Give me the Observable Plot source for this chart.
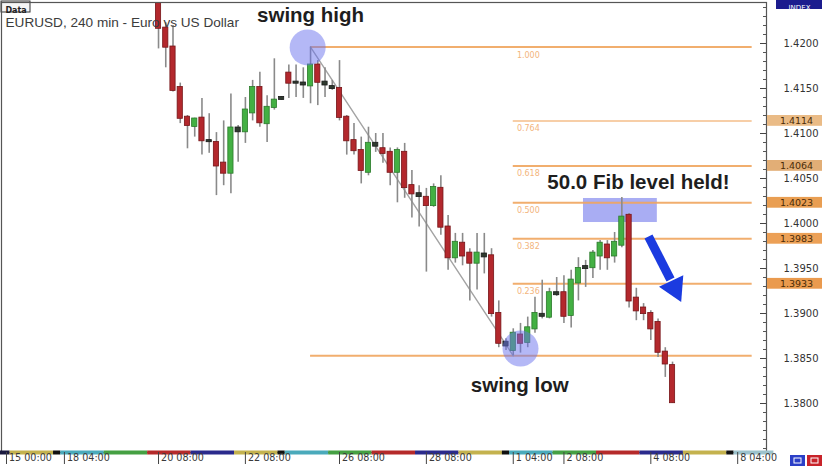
<!DOCTYPE html>
<html><head><meta charset="utf-8">
<script src="https://cdn.jsdelivr.net/npm/d3@7"></script>
<script src="https://cdn.jsdelivr.net/npm/@observablehq/plot@0.6"></script>
<style>html,body{margin:0;padding:0;background:#fff} svg{display:block}</style>
</head><body><div id="chart"></div>
<script>
// ---- data (EURUSD, 240 min) ----
const opens = [1.4260,1.4217,1.4196,1.4151,1.4118,1.4108,1.4117,1.4092,1.4090,1.4067,
1.4056,1.4106,1.4102,1.4123,1.4151,1.4111,1.4129,1.4138,1.4167,1.4157,
1.4156,1.4153,1.4176,1.4157,1.4152,1.4150,1.4118,1.4092,1.4081,1.4057,
1.4089,1.4083,1.4079,1.4057,1.4079,1.4042,1.4033,1.4029,1.4020,1.4039,
1.3996,1.3962,1.3978,1.3967,1.3956,1.3966,1.3964,1.3900,1.3868,1.3859,
1.3876,1.3868,1.3883,1.3899,1.3896,1.3923,1.3923,1.3898,1.3934,1.3952,
1.3951,1.3964,1.3976,1.3964,1.3976,1.4009,1.3917,1.3906,1.3900,1.3890,
1.3857,1.3842];
const highs = [1.4268,1.4223,1.4220,1.4156,1.4120,1.4117,1.4139,1.4122,1.4101,1.4114,
1.4144,1.4109,1.4140,1.4159,1.4168,1.4142,1.4183,1.4141,1.4176,1.4176,
1.4173,1.4196,1.4181,1.4173,1.4159,1.4181,1.4120,1.4111,1.4096,1.4107,
1.4100,1.4100,1.4084,1.4084,1.4089,1.4059,1.4042,1.4039,1.4044,1.4053,
1.4009,1.3989,1.3989,1.3972,1.3989,1.3989,1.3972,1.3914,1.3872,1.3883,
1.3889,1.3896,1.3918,1.3937,1.3928,1.3940,1.3942,1.3948,1.3962,1.3959,
1.3970,1.3981,1.3981,1.3990,1.4029,1.4011,1.3928,1.3911,1.3903,1.3894,
1.3862,1.3846];
const lows = [1.4194,1.4173,1.4146,1.4111,1.4083,1.4096,1.4076,1.4078,1.4031,1.4042,
1.4033,1.4068,1.4089,1.4114,1.4107,1.4090,1.4126,1.4137,1.4139,1.4140,
1.4139,1.4133,1.4131,1.4140,1.4148,1.4114,1.4076,1.4076,1.4044,1.4053,
1.4079,1.4067,1.4042,1.4023,1.4028,1.4006,1.3996,1.3946,1.4018,1.3987,
1.3948,1.3956,1.3953,1.3914,1.3926,1.3944,1.3896,1.3862,1.3859,1.3853,
1.3856,1.3862,1.3878,1.3894,1.3894,1.3919,1.3889,1.3884,1.3914,1.3929,
1.3939,1.3948,1.3948,1.3956,1.3973,1.3906,1.3892,1.3892,1.3870,1.3851,
1.3829,1.3800];
const closes = [1.4217,1.4196,1.4148,1.4117,1.4109,1.4116,1.4092,1.4091,1.4064,1.4056,
1.4106,1.4102,1.4126,1.4151,1.4112,1.4129,1.4137,1.4140,1.4156,1.4156,
1.4154,1.4176,1.4157,1.4154,1.4150,1.4118,1.4092,1.4081,1.4059,1.4089,
1.4086,1.4078,1.4057,1.4081,1.4040,1.4033,1.4030,1.4020,1.4040,1.3996,
1.3962,1.3979,1.3964,1.3956,1.3967,1.3963,1.3900,1.3867,1.3864,1.3878,
1.3867,1.3884,1.3900,1.3897,1.3923,1.3921,1.3897,1.3937,1.3950,1.3950,
1.3967,1.3978,1.3962,1.3979,1.4007,1.3914,1.3903,1.3900,1.3883,1.3857,
1.3844,1.3801];

// time axis (bar index of each labelled bar)
const timeTickBars = [-21,-13,0,12,25,37,49,56,68,80];
const timeTickLabels = ["15 00:00","18 04:00","20 08:00","22 08:00","26 08:00","28 08:00","1 04:00","2 08:00","4 08:00","8 04:00"];
// day separator strip (bar index boundaries + colour per day)
const dayStart = [-23,-20.5,-14.5,-13.5,-7.5,-1.5,4.5,10.5,16.5,17.5,23.5,29.5,35.5,41.5,47.5,48.5,54.5,60.5,66.5,72.5,78.5,79.5];
const dayEnd   = [-20.5,-14.5,-13.5,-7.5,-1.5,4.5,10.5,16.5,17.5,23.5,29.5,35.5,41.5,47.5,48.5,54.5,60.5,66.5,72.5,78.5,79.5,85];
const dayColor = ["#1a1a40","#c4b24e","#111","#4aaabb","#45a043","#b52a2a","#2a2a8c","#c4b24e","#111","#4aaabb","#45a043","#b52a2a","#2a2a8c","#c4b24e","#111","#4aaabb","#45a043","#b52a2a","#2a2a8c","#c4b24e","#111","#9cc2cc"];

// price axis
const priceTicks = [1.38,1.385,1.39,1.395,1.40,1.405,1.41,1.415,1.42];

// Fibonacci retracement
const fibRatios = ["1.000","0.764","0.618","0.500","0.382","0.236","0.000"];
const fibPrices = [1.4196,1.4114,1.4064,1.4023,1.3983,1.3933,1.3853];
const fibStartBar = [21,49,49,49,49,49,21];
const fibEndBar = 82;
const fibAxisPrices = [1.4114,1.4064,1.4023,1.3983,1.3933];
const fibAxisColors = ["#eabb86","#e2ae76","#e99e52","#eca056","#ea9a4e"];

// annotations
const swingHighBar = 21, swingHighPrice = 1.4196;
const swingLowBar = 49, swingLowPrice = 1.3853;
const circleBars = [20.6, 50.0];
const circlePrices = [1.41956, 1.38611];
const heldBox = {x1: 58.7, x2: 68.9, y1: 1.40011, y2: 1.40278};
const noteTexts = ["swing high","swing low","50.0 Fib level held!"];
const noteBars = [21.0, 49.9, 66.3];
const notePrices = [1.42316, 1.38204, 1.40460];
const arrowBars = [67.68, 70.72];
const arrowPrices = [1.39856, 1.39378];
const arrowHead = {bar: 71.27, price: 1.39284};

// ---- build ----
const W = 822, H = 467, mT = 2, mB = 15, mL = 1, mR = 56;
const candles = opens.map((o, i) => ({i, o, h: highs[i], l: lows[i], c: closes[i]}));
const kind = d => (d.c - d.o > 0.00045 ? "up" : d.o - d.c > 0.00045 ? "down" : "doji");
const fill = {up: "#43b043", down: "#b3282d", doji: "#2f3a2f"};
const edge = {up: "#2b7a2b", down: "#761518", doji: "#1a1a1a"};
const fibs = fibRatios.map((r, k) => ({r, p: fibPrices[k], s: fibStartBar[k]}));
const days = dayStart.map((s, k) => ({s, e: dayEnd[k], col: dayColor[k]}));
const ticksT = timeTickBars.map((b, k) => ({b, t: timeTickLabels[k]}));
const notes = noteTexts.map((t, k) => ({t, b: noteBars[k], p: notePrices[k]}));
const frameW = W - mR - mL, frameH = H - mB - mT;
// helper: decorative box in pixel layout via insets
const box = (x1, y1, x2, y2, o) => Plot.rect([0], {
  insetLeft: x1 - mL, insetRight: (W - mR) - x2, insetTop: y1 - mT, insetBottom: (H - mB) - y2, ...o});

const chart = Plot.plot({
  width: W, height: H,
  marginTop: mT, marginBottom: mB, marginLeft: mL, marginRight: mR,
  style: {fontFamily: "DejaVu Sans", fontSize: "10px", background: "#fff", overflow: "visible"},
  x: {type: "linear", domain: [-21.69, 83.98], axis: null},
  y: {type: "linear", domain: [1.374556, 1.424556]},
  marks: [
    // held rectangle (behind)
    Plot.rect([heldBox], {x1: "x1", x2: "x2", y1: "y1", y2: "y2", fill: "#a9adf3"}),
    // fib lines
    Plot.ruleY(fibs, {x1: "s", x2: () => fibEndBar, y: "p", stroke: "#f0a55e", strokeWidth: 2, strokeOpacity: d => d.r === "0.764" ? 0.55 : 0.9}),
    Plot.text(fibs.filter(d => d.r !== "0.000"), {x: () => swingLowBar + 0.5, y: "p", text: "r", dy: 8, textAnchor: "start", fill: "#f3b57c", fontSize: 8}),
    // trend line swing high -> swing low
    Plot.line([{b: swingHighBar, p: swingHighPrice}, {b: swingLowBar, p: swingLowPrice}], {x: "b", y: "p", stroke: "#a3a3a3", strokeWidth: 1.4}),
    // wicks
    Plot.ruleX(candles, {x: "i", y1: "l", y2: "h", stroke: "#8a8a8a", strokeWidth: 1.6, clip: true}),
    // bodies
    Plot.rect(candles, {x1: d => d.i - 0.36, x2: d => d.i + 0.36, y1: d => Math.min(d.o, d.c), y2: d => Math.max(d.o, d.c),
      fill: d => fill[kind(d)], stroke: d => edge[kind(d)], strokeWidth: 0.8, insetTop: -0.6, insetBottom: -0.6, clip: true}),
    // swing circles
    Plot.dot(circleBars.map((b, k) => ({b, p: circlePrices[k]})), {x: "b", y: "p", r: 18, fill: "#6a72ee", fillOpacity: 0.5, stroke: "none"}),
    // blue arrow
    Plot.line(arrowBars.map((b, k) => ({b, p: arrowPrices[k]})), {x: "b", y: "p", stroke: "#1b3be0", strokeWidth: 9, strokeLinecap: "butt"}),
    Plot.dot([arrowHead], {x: "bar", y: "price", symbol: "triangle", r: 10, rotate: 154.5, fill: "#1b3be0", stroke: "none"}),
    // annotation texts
    Plot.text(notes, {x: "b", y: "p", text: "t", fontFamily: "Liberation Sans", fontWeight: "bold", fontSize: 20.5, fill: "#1e1e1e"}),
    // title
    Plot.text(["EURUSD, 240 min - Euro vs US Dollar"], {frameAnchor: "top-left", dx: 4, dy: 15, textAnchor: "start", fontFamily: "Liberation Sans", fontSize: 13.6, fill: "#3c3c3c"}),
    box(1, 1, 30, 12, {fill: "#f5f5f5", stroke: "#333", strokeWidth: 1}),
    Plot.text(["Data"], {frameAnchor: "top-left", dx: 14.5, dy: 4.5, textAnchor: "middle", fontFamily: "DejaVu Sans", fontWeight: "bold", fontSize: 8, fill: "#222"}),
    // frame
    Plot.frame({stroke: "#555", strokeWidth: 1.2}),
    // day separator strip
    Plot.rect(days, {x1: "s", x2: "e", fill: "col", insetTop: frameH - 1.5, insetBottom: -2.5, clip: false}),
    // time ticks + labels
    Plot.ruleX(ticksT, {x: "b", insetTop: frameH, insetBottom: -12, stroke: "#444", strokeWidth: 1}),
    Plot.text(ticksT, {x: "b", text: "t", frameAnchor: "bottom", dy: 8.5, dx: 2.5, textAnchor: "start", fontSize: 9.6, fill: "#3a3a3a"}),
    // price axis ticks
    Plot.ruleY(d3.range(1.375, 1.4245, 0.001), {y: d => d, insetLeft: frameW - 3, stroke: "#555", strokeWidth: 1}),
    Plot.ruleY(priceTicks, {y: d => d, insetLeft: frameW - 6, stroke: "#444", strokeWidth: 1}),
    Plot.axisY(priceTicks, {anchor: "right", tickSize: 0, tickPadding: 17, tickFormat: d3.format(".4f"), fontSize: 10, color: "#333", label: null}),
    // fib price boxes on axis
    Plot.rect(fibAxisPrices.map((p, k) => ({p, col: fibAxisColors[k]})), {y1: d => d.p - 0.0006, y2: d => d.p + 0.0006, fill: "col", insetLeft: frameW + 1, insetRight: -mR}),
    Plot.text(fibAxisPrices, {y: d => d, text: d => d.toFixed(4), frameAnchor: "right", dx: 30, textAnchor: "middle", fontSize: 9.5, fill: "#4a2c08"}),
    // INDEX tag
    box(776, 0, 822, 9, {fill: "#1c1c8e"}),
    Plot.text(["INDEX"], {frameAnchor: "top-right", dx: 33, dy: 2.5, textAnchor: "middle", fontSize: 7, fill: "#fff"}),
    // corner buttons
    box(790, 455, 805, 466, {fill: "#2b3fc7"}),
    box(807, 455, 822, 466, {fill: "#c8232a"}),
    box(794, 458, 801, 463, {fill: "none", stroke: "#fff", strokeWidth: 1}),
    box(811, 458, 818, 463, {fill: "none", stroke: "#fff", strokeWidth: 1})
  ]
});
document.getElementById("chart").appendChild(chart);
</script>
</body></html>
